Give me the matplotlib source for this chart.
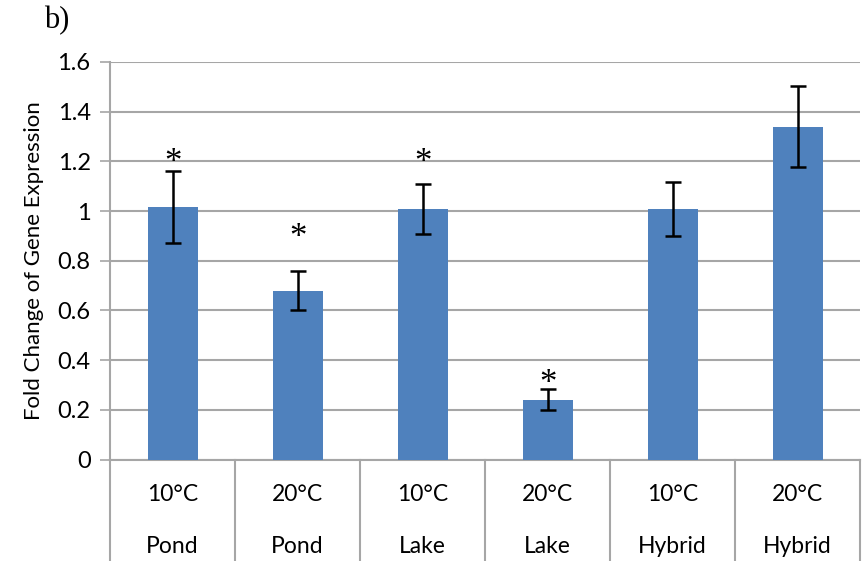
import matplotlib
matplotlib.use("Agg")
import matplotlib.pyplot as plt
import numpy as np

temps = ["10°C", "20°C", "10°C", "20°C", "10°C", "20°C"]
groups = ["Pond", "Pond", "Lake", "Lake", "Hybrid", "Hybrid"]
fold_change = [1.016, 0.680, 1.008, 0.241, 1.008, 1.339]
errors = [0.145, 0.080, 0.100, 0.041, 0.108, 0.163]
# significance markers: (bar index, height of asterisk)
sig_bars = [0, 1, 2, 3]
sig_heights = [1.19, 0.89, 1.19, 0.30]

font = "Lato"
fs = 16
bar_color = "#4F81BD"
grid_color = "#A6A6A6"

fig = plt.figure(figsize=(8.63, 5.61), dpi=100)
ax = fig.add_axes([110 / 863, 1 - 459.5 / 561, 750 / 863, (459.5 - 62) / 561])

x = np.arange(len(fold_change))
ax.bar(x, fold_change, width=0.4, color=bar_color, zorder=3)
ax.errorbar(x, fold_change, yerr=errors, fmt="none", ecolor="black",
            elinewidth=1.8, capsize=5.5, capthick=1.8, zorder=4)

for i, h in zip(sig_bars, sig_heights):
    ax.text(i, h, "*", ha="center", va="center", fontsize=25,
            family="Liberation Serif", zorder=5)

ax.set_xlim(-0.5, len(fold_change) - 0.5)
ax.set_ylim(0, 1.6)
yt = np.arange(0, 1.61, 0.2)
ax.set_yticks(yt)
ax.set_yticklabels(["0" if v == 0 else ("1" if abs(v - 1) < 1e-9 else f"{v:.1f}") for v in yt],
                   family=font, fontsize=17)
ax.yaxis.grid(True, color=grid_color, linewidth=1.5, zorder=0)
ax.set_axisbelow(True)
ax.tick_params(axis="y", direction="out", length=7, width=1.2, color=grid_color, pad=7)
ax.set_xticks([])

for side in ["top", "right"]:
    ax.spines[side].set_visible(False)
for side in ["left", "bottom"]:
    ax.spines[side].set_color(grid_color)
    ax.spines[side].set_linewidth(1.5)

ax.set_ylabel("Fold Change of Gene Expression", family=font, fontsize=fs, labelpad=10)

# two-level category axis below the plot
trans = ax.get_xaxis_transform()
for edge in np.arange(-0.5, len(fold_change), 1.0):
    ax.plot([edge, edge], [0, -0.26], transform=trans, color=grid_color,
            linewidth=1.5, clip_on=False)
for i, (t, g) in enumerate(zip(temps, groups)):
    ax.text(i, -0.087, t, transform=trans, ha="center", va="center",
            family=font, fontsize=fs + 0.5)
    ax.text(i, -0.22, g, transform=trans, ha="center", va="center",
            family=font, fontsize=fs + 0.5)

fig.text(44 / 863, 1 - 21 / 561, "b)", family="Liberation Serif", fontsize=22,
         ha="left", va="center")

fig.savefig("out.png", dpi=100)
